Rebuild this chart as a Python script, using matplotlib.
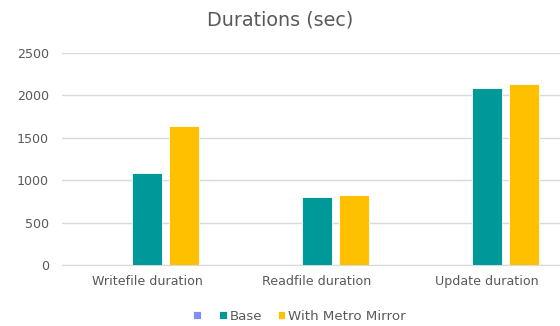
import matplotlib
matplotlib.use('Agg')
import matplotlib.pyplot as plt
import numpy as np

categories = ['Writefile duration', 'Readfile duration', 'Update duration']
series_names = ['', 'Base', 'With Metro Mirror']
empty_vals = [0, 0, 0]
base_vals = [1085, 800, 2085]
metro_vals = [1640, 825, 2135]
colors = ['#7f8ff5', '#009999', '#ffc000']
y_ticks = [0, 500, 1000, 1500, 2000, 2500]

plt.rcParams['font.family'] = ['DejaVu Sans']

fig = plt.figure(figsize=(5.6, 3.26), dpi=100)
ax = fig.add_axes([62 / 560, 61 / 326, 1 - 62 / 560, 212 / 326])

x = np.arange(len(categories))
w = 0.176
off = 0.218
bars = []
for i, vals in enumerate([empty_vals, base_vals, metro_vals]):
    b = ax.bar(x + (i - 1) * off, vals, width=w, color=colors[i],
               edgecolor='white', linewidth=0.6, label=series_names[i], zorder=3)
    bars.append(b)

ax.set_ylim(0, 2500)
ax.set_xlim(-0.5, 2.43)
ax.set_yticks(y_ticks)
ax.set_xticks(x)
ax.set_xticklabels(categories)
ax.grid(axis='y', color='#d9d9d9', linewidth=1, zorder=0)
for s in ['top', 'right', 'left']:
    ax.spines[s].set_visible(False)
ax.spines['bottom'].set_color('#d9d9d9')
ax.tick_params(axis='both', length=0, colors='#595959', labelsize=9.1)
ax.tick_params(axis='y', pad=9.4)
ax.tick_params(axis='x', pad=7)

fig.text(0.5, 0.94, 'Durations (sec)', ha='center', va='center',
         fontsize=13.8, color='#595959')

leg = fig.legend(handles=[b[0] for b in bars], labels=series_names,
                 loc='center', bbox_to_anchor=(0.535, 0.03), ncol=3,
                 frameon=False, fontsize=9.6, handlelength=0.55,
                 handleheight=0.55, handletextpad=0.2, columnspacing=1.2)
for t in leg.get_texts():
    t.set_color('#595959')

fig.savefig('out.png', dpi=100)
